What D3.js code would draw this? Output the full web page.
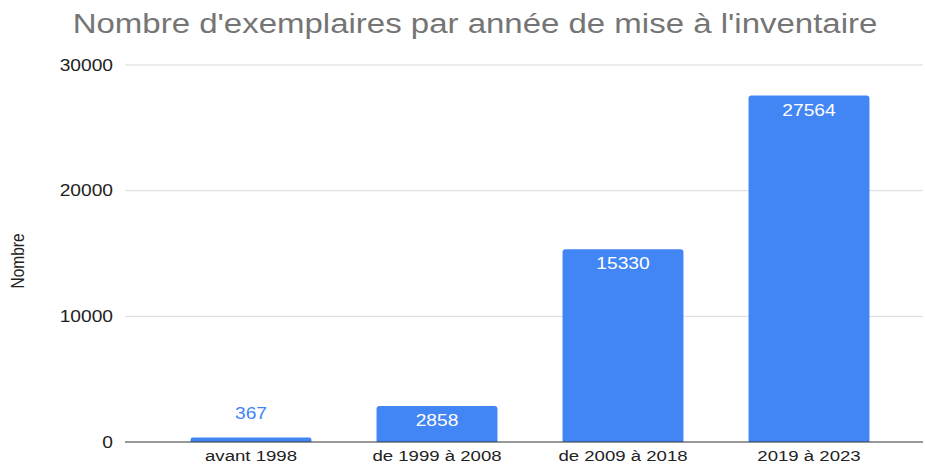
<!DOCTYPE html>
<html>
<head>
<meta charset="utf-8">
<script src="https://cdn.jsdelivr.net/npm/d3@7.9.0/dist/d3.min.js"></script>
<style>
  body { margin: 0; background: #fff; }
  svg { font-family: "Liberation Sans", Arial, sans-serif; }
</style>
</head>
<body>
<svg id="chart" width="925" height="466"></svg>
<script>
const categories = ["avant 1998", "de 1999 à 2008", "de 2009 à 2018", "2019 à 2023"];
const values = [367, 2858, 15330, 27564];
const yTicks = [0, 10000, 20000, 30000];

// the reference text is drawn a bit wider than normal
const sx = 1.2;

const svg = d3.select("#chart");

const x = d3.scaleBand()
  .domain(categories)
  .range([158, 902])
  .paddingInner(0.35)
  .paddingOuter(0.175);

const y = d3.scaleLinear().domain([0, 30000]).range([442, 65]);

// title
svg.append("text")
  .attr("transform", `translate(475,33) scale(${sx},1)`)
  .attr("text-anchor", "middle")
  .attr("fill", "#757575")
  .attr("font-size", 27.5)
  .text("Nombre d'exemplaires par année de mise à l'inventaire");

// gridlines
svg.append("g")
  .selectAll("line")
  .data(yTicks.filter(d => d > 0))
  .join("line")
  .attr("x1", 125)
  .attr("x2", 923)
  .attr("y1", d => y(d))
  .attr("y2", d => y(d))
  .attr("stroke", "#d9d9d9")
  .attr("stroke-width", 1);

// y tick labels
svg.append("g")
  .selectAll("text")
  .data(yTicks)
  .join("text")
  .attr("transform", d => `translate(113,${y(d)}) scale(${sx},1)`)
  .attr("dy", "0.35em")
  .attr("text-anchor", "end")
  .attr("fill", "#222")
  .attr("font-size", 16)
  .text(d => d);

// y axis title
svg.append("text")
  .attr("transform", `translate(24,261) rotate(-90) scale(1,${sx})`)
  .attr("text-anchor", "middle")
  .attr("fill", "#222")
  .attr("font-size", 15.5)
  .text("Nombre");

// bars with rounded top corners
const r = 3;
const data = categories.map((c, i) => ({ cat: c, value: values[i] }));

svg.append("g")
  .selectAll("path")
  .data(data)
  .join("path")
  .attr("fill", "#4285f4")
  .attr("d", d => {
    const x0 = x(d.cat), w = x.bandwidth();
    const top = y(d.value), bot = y(0);
    const rr = Math.min(r, (bot - top) / 2);
    return `M${x0},${bot}V${top + rr}Q${x0},${top} ${x0 + rr},${top}` +
      `H${x0 + w - rr}Q${x0 + w},${top} ${x0 + w},${top + rr}V${bot}Z`;
  });

// value labels
const small = d => y(0) - y(d.value) < 30;
svg.append("g")
  .selectAll("text")
  .data(data)
  .join("text")
  .attr("transform", d => {
    const ty = small(d) ? y(d.value) - 18 : y(d.value) + 20;
    return `translate(${x(d.cat) + x.bandwidth() / 2},${ty}) scale(${sx},1)`;
  })
  .attr("text-anchor", "middle")
  .attr("font-size", 16)
  .attr("fill", d => (small(d) ? "#4285f4" : "#fff"))
  .text(d => d.value);

// baseline
svg.append("line")
  .attr("x1", 125)
  .attr("x2", 923)
  .attr("y1", y(0))
  .attr("y2", y(0))
  .attr("stroke", "#333")
  .attr("stroke-width", 1);

// x labels
svg.append("g")
  .selectAll("text")
  .data(categories)
  .join("text")
  .attr("transform", d => `translate(${x(d) + x.bandwidth() / 2},461) scale(${sx},1)`)
  .attr("text-anchor", "middle")
  .attr("fill", "#222")
  .attr("font-size", 15.5)
  .text(d => d);
</script>
</body>
</html>
